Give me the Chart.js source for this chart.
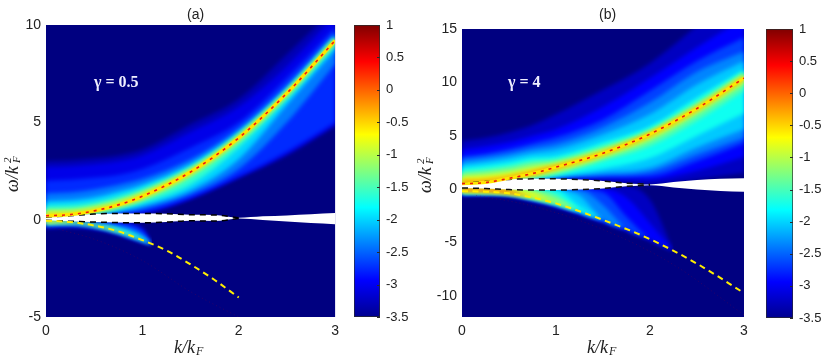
<!DOCTYPE html>
<html>
<head>
<meta charset="utf-8">
<script src="https://cdn.jsdelivr.net/npm/chart.js@4"></script>
<style>
  html, body { margin: 0; padding: 0; background: #fff; }
  canvas { position: absolute; }
</style>
</head>
<body>
<canvas id="panelA" style="left:0;top:0" width="345" height="363"></canvas>
<canvas id="barA" style="left:345px;top:0" width="65" height="363"></canvas>
<canvas id="panelB" style="left:410px;top:0" width="345" height="363"></canvas>
<canvas id="barB" style="left:755px;top:0" width="80" height="363"></canvas>
<script>
const xTicks = [0, 1, 2, 3];
const aYTicks = [-5, 0, 5, 10];
const bYTicks = [-10, -5, 0, 5, 10, 15];
const barTicks = [-3.5, -3, -2.5, -2, -1.5, -1, -0.5, 0, 0.5, 1];
const jetStops = [[0, "#00008f"], [0.125, "#0000ff"], [0.375, "#00ffff"], [0.625, "#ffff00"], [0.875, "#ff0000"], [1, "#800000"]];

// every row of a field is one contour level, one value per k stop
const fieldKs = [0, 0.25, 0.5, 0.75, 1, 1.5, 2, 2.5, 3];

const aLevels = [-3.4, -3.2, -2.9, -2.6, -2.2, -1.8, -1.4, -1, -0.6];
const aRidge = [0.2, 0.26, 0.45, 0.76, 1.2, 2.45, 4.2, 6.5, 9.2];
const aUpper = [
  [3.0, 3.05, 3.15, 3.3, 3.6, 4.9, 6.2, 8.5, 10.9],
  [2.7, 2.75, 2.85, 3.0, 3.3, 4.5, 5.8, 7.9, 10.5],
  [2.0, 2.05, 2.15, 2.3, 2.6, 3.7, 5.0, 7.3, 9.9],
  [1.35, 1.4, 1.55, 1.8, 2.1, 3.1, 4.7, 6.9, 9.6],
  [0.95, 1.0, 1.15, 1.45, 1.8, 2.85, 4.5, 6.75, 9.45],
  [0.7, 0.75, 0.9, 1.2, 1.6, 2.72, 4.4, 6.65, 9.35],
  [0.52, 0.55, 0.72, 1.02, 1.45, 2.6, 4.33, 6.6, 9.3],
  [0.4, 0.42, 0.6, 0.9, 1.35, 2.55, 4.28, 6.56, 9.26],
  [0.3, 0.33, 0.52, 0.82, 1.27, 2.5, 4.25, 6.54, 9.24]
];
const aLower = [
  [0.15, 0.2, 0.25, 0.3, 0.35, 1.05, 2.15, 3.3, 4.8],
  [0.15, 0.2, 0.25, 0.3, 0.35, 1.1, 2.2, 3.4, 4.9],
  [0.15, 0.2, 0.25, 0.32, 0.4, 1.15, 2.25, 3.5, 5.0],
  [0.15, 0.2, 0.27, 0.38, 0.55, 1.3, 2.6, 5.0, 8.0],
  [0.15, 0.2, 0.3, 0.45, 0.7, 1.5, 3.1, 5.9, 8.7],
  [0.16, 0.21, 0.33, 0.54, 0.85, 1.8, 3.7, 6.2, 9.0],
  [0.17, 0.22, 0.38, 0.64, 1.0, 2.2, 4.02, 6.35, 9.08],
  [0.18, 0.24, 0.41, 0.7, 1.1, 2.33, 4.1, 6.42, 9.13],
  [0.19, 0.25, 0.43, 0.73, 1.15, 2.4, 4.15, 6.47, 9.16]
];

const aNegKs = [0, 0.25, 0.5, 0.75, 1, 1.1];
const aNegLevels = [-3.3, -3, -2.5, -2, -1.5, -1, -0.6];
const aNegUpper = [
  [0, -0.05, -0.1, -0.15, -0.4, -1.28],
  [0, -0.05, -0.12, -0.18, -0.55, -1.28],
  [0, -0.05, -0.18, -0.3, -0.75, -1.28],
  [0, -0.06, -0.24, -0.45, -0.95, -1.28],
  [0, -0.08, -0.27, -0.55, -1.03, -1.28],
  [0, -0.1, -0.28, -0.58, -1.05, -1.28],
  [0, -0.11, -0.29, -0.59, -1.05, -1.28]
];
const aNegLower = [
  [-0.45, -0.4, -0.5, -0.78, -1.2, -1.28],
  [-0.38, -0.33, -0.44, -0.72, -1.14, -1.28],
  [-0.3, -0.25, -0.38, -0.68, -1.1, -1.28],
  [-0.24, -0.2, -0.35, -0.65, -1.08, -1.28],
  [-0.18, -0.17, -0.33, -0.63, -1.07, -1.28],
  [-0.14, -0.15, -0.31, -0.61, -1.06, -1.28],
  [-0.1, -0.13, -0.3, -0.6, -1.05, -1.28]
];

const bLevels = [-3.4, -3.1, -2.8, -2.5, -2.2, -1.9, -1.6, -1.3, -1, -0.6, -0.2];
const bRidge = [0.5, 0.6, 1.0, 1.45, 2.05, 3.35, 5.15, 7.55, 10.4];
const bUpper = [
  [4.5, 4.8, 5.3, 6.0, 7.0, 9.3, 11.8, 15.3, 19],
  [3.7, 4.0, 4.4, 5.0, 5.6, 7.7, 10.4, 13.3, 16],
  [3.05, 3.3, 3.75, 4.3, 4.85, 6.5, 9.2, 12.0, 14.2],
  [2.75, 3.0, 3.35, 3.85, 4.25, 5.8, 8.1, 11.0, 12.9],
  [2.35, 2.6, 2.95, 3.4, 3.7, 5.1, 7.0, 9.8, 12],
  [2.0, 2.2, 2.5, 2.95, 3.1, 4.4, 5.9, 8.6, 11.2],
  [1.65, 1.85, 2.15, 2.6, 2.8, 4.05, 5.6, 8.2, 11],
  [1.38, 1.55, 1.85, 2.3, 2.55, 3.8, 5.4, 7.9, 10.8],
  [1.1, 1.25, 1.5, 1.95, 2.35, 3.6, 5.3, 7.75, 10.65],
  [0.85, 0.95, 1.25, 1.7, 2.2, 3.45, 5.22, 7.65, 10.5],
  [0.6, 0.7, 1.07, 1.55, 2.1, 3.38, 5.17, 7.58, 10.44]
];
const bLower = [
  [0.4, 0.5, 0.85, 0.95, 0.95, 0.7, 0.4, 0.9, 1.5],
  [0.4, 0.5, 0.85, 1.0, 1.1, 1.05, 0.9, 1.7, 3.0],
  [0.4, 0.5, 0.85, 1.0, 1.12, 1.15, 1.2, 2.6, 4.3],
  [0.4, 0.5, 0.85, 1.0, 1.15, 1.3, 1.6, 3.2, 4.8],
  [0.4, 0.5, 0.85, 1.02, 1.2, 1.55, 2.0, 3.9, 5.6],
  [0.4, 0.52, 0.87, 1.05, 1.25, 1.9, 2.9, 5.0, 7.1],
  [0.4, 0.52, 0.87, 1.1, 1.35, 2.6, 4.0, 6.4, 9.2],
  [0.42, 0.55, 0.9, 1.15, 1.55, 2.9, 4.5, 7.0, 9.8],
  [0.44, 0.56, 0.92, 1.25, 1.75, 3.1, 4.8, 7.25, 10.1],
  [0.46, 0.57, 0.95, 1.36, 1.93, 3.25, 5.0, 7.42, 10.28],
  [0.48, 0.58, 0.98, 1.42, 2.0, 3.3, 5.1, 7.5, 10.37]
];

const bNegKs = [0, 0.25, 0.5, 0.75, 1, 1.25, 1.5, 1.75, 2, 2.25];
const bNegUpper = [
  [0.1, 0.05, 0, -0.1, -0.1, -0.05, 0.05, 0.25, -1.0, -5.8],
  [0.1, 0.05, 0, -0.1, -0.1, -0.05, 0.05, -0.8, -3.2, -5.8],
  [0.1, 0.05, 0, -0.1, -0.1, -0.05, -0.3, -2.6, -4.7, -5.8],
  [0.1, 0.05, 0, -0.1, -0.1, -0.1, -1.5, -3.75, -4.7, -5.8],
  [0.1, 0.05, 0, -0.1, -0.1, -0.6, -2.9, -3.75, -4.7, -5.8],
  [0.1, 0.05, 0, -0.1, -0.1, -1.6, -2.9, -3.75, -4.7, -5.8],
  [0.1, 0.05, 0, -0.1, -0.5, -2.1, -2.9, -3.75, -4.7, -5.8],
  [0.1, 0.05, 0, -0.15, -0.9, -2.1, -2.9, -3.75, -4.7, -5.8],
  [0.1, 0.05, -0.05, -0.35, -1.35, -2.1, -2.9, -3.75, -4.7, -5.8],
  [0.1, 0.05, -0.1, -0.8, -1.35, -2.1, -2.9, -3.75, -4.7, -5.8],
  [0.1, 0, -0.2, -0.8, -1.35, -2.1, -2.9, -3.75, -4.7, -5.8]
];
const bNegLower = [
  [-0.68, -0.62, -0.75, -1.2, -1.75, -2.45, -3.2, -3.95, -4.85, -5.8],
  [-0.58, -0.54, -0.64, -1.08, -1.62, -2.3, -3.05, -3.8, -4.72, -5.8],
  [-0.5, -0.48, -0.57, -1.0, -1.52, -2.2, -2.95, -3.75, -4.7, -5.8],
  [-0.46, -0.45, -0.54, -0.96, -1.47, -2.15, -2.9, -3.75, -4.7, -5.8],
  [-0.42, -0.42, -0.51, -0.92, -1.43, -2.12, -2.9, -3.75, -4.7, -5.8],
  [-0.38, -0.39, -0.48, -0.89, -1.4, -2.1, -2.9, -3.75, -4.7, -5.8],
  [-0.34, -0.36, -0.46, -0.86, -1.38, -2.1, -2.9, -3.75, -4.7, -5.8],
  [-0.3, -0.33, -0.44, -0.84, -1.36, -2.1, -2.9, -3.75, -4.7, -5.8],
  [-0.25, -0.3, -0.43, -0.83, -1.35, -2.1, -2.9, -3.75, -4.7, -5.8],
  [-0.2, -0.26, -0.41, -0.8, -1.35, -2.1, -2.9, -3.75, -4.7, -5.8],
  [-0.15, -0.22, -0.4, -0.8, -1.35, -2.1, -2.9, -3.75, -4.7, -5.8]
];

const gapKs = [0, 0.25, 0.5, 0.75, 1, 1.25, 1.5, 1.75, 2, 2.25, 2.5, 2.75, 3];
const aGapTop = [0.13, 0.2, 0.29, 0.32, 0.32, 0.3, 0.25, 0.24, 0.1, 0.17, 0.22, 0.28, 0.34];
const aGapBottom = [-0.03, -0.08, -0.12, -0.15, -0.16, -0.12, -0.06, -0.07, 0.06, -0.02, -0.1, -0.17, -0.23];
const bGapTop = [0.55, 0.7, 0.9, 0.95, 0.95, 0.88, 0.75, 0.55, 0.43, 0.65, 0.85, 0.95, 1.0];
const bGapBottom = [0.1, 0.05, -0.05, -0.1, -0.1, -0.05, 0.05, 0.25, 0.36, 0.15, -0.05, -0.18, -0.25];

const aBranchKs = [0, 0.25, 0.5, 0.75, 1, 1.25, 1.5, 1.75, 2];
const aBranch = [-0.05, -0.12, -0.3, -0.6, -1.05, -1.58, -2.3, -3.1, -4.0];
const aFaintKs = [0.05, 0.5, 1, 1.5, 2];
const aFaint = [-0.4, -1.0, -2.1, -3.7, -5];
const bBranch = [-0.2, -0.25, -0.4, -0.8, -1.35, -2.9, -4.7, -7.0, -9.75];
const bFaintKs = [0.15, 0.75, 1.5, 2.25, 3];
const bFaint = [-0.6, -1.6, -3.8, -7.1, -11.8];

function hexRgb(h) {
  return [1, 3, 5].map((i) => parseInt(h.slice(i, i + 2), 16));
}

function jet(v) {
  const t = Math.min(1, Math.max(0, (v + 3.5) / 4.5));
  for (let i = 1; i < jetStops.length; i++) {
    if (t <= jetStops[i][0]) {
      const f = (t - jetStops[i - 1][0]) / (jetStops[i][0] - jetStops[i - 1][0]);
      const a = hexRgb(jetStops[i - 1][1]);
      const b = hexRgb(jetStops[i][1]);
      return `rgb(${a.map((c, n) => Math.round(c + (b[n] - c) * f)).join(",")})`;
    }
  }
  return jetStops[jetStops.length - 1][1];
}

function points(ks, ys) {
  return ks.map((k, i) => ({ x: k, y: ys[i] }));
}

function curve(ks, ys, extra) {
  return Object.assign(
    {
      data: points(ks, ys),
      pointRadius: 0,
      borderWidth: 0,
      fill: false,
      cubicInterpolationMode: "monotone",
    },
    extra
  );
}

// inner level first, because chart.js paints the last dataset first
function bands(ks, levels, lower, upper) {
  const out = [];
  for (let i = levels.length - 1; i >= 0; i--) {
    const next = i + 1 < levels.length ? levels[i + 1] : levels[i] + 0.4;
    const color = jet((levels[i] + next) / 2);
    out.push(curve(ks, lower[i], { isBand: true }));
    out.push(curve(ks, upper[i], { isBand: true, fill: "-1", backgroundColor: color }));
  }
  return out;
}

function dashed(ks, ys, color, width, dash) {
  return curve(ks, ys, { borderColor: color, borderWidth: width, borderDash: dash });
}

function panel(id, cfg) {
  const datasets = [].concat(
    cfg.lines,
    [
      curve(gapKs, cfg.gapBottom),
      curve(gapKs, cfg.gapTop, { fill: "-1", backgroundColor: "#ffffff" }),
    ],
    cfg.fields
  );
  const firstBand = datasets.findIndex((d) => d.isBand);
  new Chart(document.getElementById(id), {
    type: "line",
    data: { datasets: datasets },
    options: {
      responsive: false,
      animation: false,
      layout: { padding: { top: cfg.top, right: cfg.right } },
      plugins: { legend: { display: false }, tooltip: { enabled: false } },
      scales: {
        x: {
          type: "linear",
          min: 0,
          max: 3,
          z: 1,
          grid: { display: false, drawTicks: false },
          border: { display: false },
          afterBuildTicks: (a) => (a.ticks = xTicks.map((v) => ({ value: v }))),
          afterFit: (s) => (s.height = 363 - cfg.bottom),
          ticks: { padding: 6, maxRotation: 0, color: "#222", font: { family: "Liberation Sans", size: 14 } },
        },
        y: {
          min: cfg.yMin,
          max: cfg.yMax,
          z: 1,
          grid: { display: false, drawTicks: false },
          border: { display: false },
          afterBuildTicks: (a) => (a.ticks = cfg.yTicks.map((v) => ({ value: v }))),
          afterFit: (s) => (s.width = cfg.left),
          ticks: { padding: 5, color: "#222", font: { family: "Liberation Sans", size: 14 } },
        },
      },
    },
    plugins: [
      {
        id: "spectrum",
        beforeDatasetsDraw(chart) {
          const { ctx, chartArea: a } = chart;
          ctx.fillStyle = "#000080";
          ctx.fillRect(a.left, a.top, a.right - a.left, a.bottom - a.top);
          ctx.filter = "blur(2px)";
        },
        afterDatasetDraw(chart, args) {
          if (args.index === firstBand) chart.ctx.filter = "none";
        },
        afterDraw(chart) {
          const { ctx } = chart;
          ctx.save();
          ctx.textBaseline = "middle";
          ctx.textAlign = "left";
          ctx.fillStyle = "#222";
          ctx.font = "14px 'Liberation Sans'";
          ctx.fillText(cfg.title, cfg.titleX, 15);

          ctx.fillStyle = "#eef";
          ctx.font = "bold 16px 'Liberation Serif'";
          ctx.fillText(cfg.note, cfg.noteX, 83);

          ctx.fillStyle = "#222";
          ctx.font = "italic 18px 'Liberation Serif'";
          ctx.fillText("k/k", cfg.xLabelX, 348);
          ctx.font = "italic 12px 'Liberation Serif'";
          ctx.fillText("F", cfg.xLabelX + 22, 352);

          ctx.translate(cfg.yLabelX, cfg.yLabelY);
          ctx.rotate(-Math.PI / 2);
          ctx.font = "italic 18px 'Liberation Serif'";
          ctx.fillText("ω/k", 0, 0);
          ctx.font = "italic 11px 'Liberation Serif'";
          ctx.fillText("2", 29, -5);
          ctx.fillText("F", 29, 4);
          ctx.restore();
        },
      },
    ],
  });
}

function colorBar(id, top, bottom, left, right) {
  new Chart(document.getElementById(id), {
    type: "bar",
    data: {
      labels: ["v"],
      datasets: [
        {
          data: [[barTicks[0], barTicks[barTicks.length - 1]]],
          barPercentage: 1,
          categoryPercentage: 1,
          borderColor: "#2a2a2a",
          borderWidth: 1,
          borderSkipped: false,
          backgroundColor(c) {
            const area = c.chart.chartArea;
            if (!area) return "#00008f";
            const g = c.chart.ctx.createLinearGradient(0, area.bottom, 0, area.top);
            jetStops.forEach((st) => g.addColorStop(st[0], st[1]));
            return g;
          },
        },
      ],
    },
    options: {
      responsive: false,
      animation: false,
      layout: { padding: { top: top, left: left, bottom: 363 - bottom, right: 0 } },
      plugins: { legend: { display: false }, tooltip: { enabled: false } },
      scales: {
        x: { display: false },
        y: {
          position: "right",
          min: -3.5,
          max: 1,
          grid: { display: false, drawTicks: false },
          border: { display: false },
          afterBuildTicks: (a) => (a.ticks = barTicks.map((v) => ({ value: v }))),
          afterFit: (s) => (s.width = right),
          ticks: {
            padding: 6,
            color: "#222",
            font: { family: "Liberation Sans", size: 13 },
            callback: (v) => String(v),
          },
        },
      },
    },
    plugins: [
      {
        id: "innerTicks",
        afterDraw(chart) {
          const { ctx, chartArea: a, scales } = chart;
          ctx.strokeStyle = "#2a2a2a";
          ctx.lineWidth = 1;
          barTicks.forEach((v) => {
            const y = Math.round(scales.y.getPixelForValue(v)) + 0.5;
            ctx.beginPath();
            ctx.moveTo(a.right - 3, y);
            ctx.lineTo(a.right, y);
            ctx.stroke();
          });
        },
      },
    ],
  });
}

panel("panelA", {
  top: 25, right: 8, left: 46, bottom: 317, yMin: -5, yMax: 10, yTicks: aYTicks,
  title: "(a)", titleX: 187, note: "γ = 0.5", noteX: 94, xLabelX: 174, yLabelX: 13, yLabelY: 192,
  gapTop: aGapTop, gapBottom: aGapBottom,
  lines: [
    dashed(fieldKs, aRidge, "#ee1c10", 1.6, [3, 5]),
    dashed(fieldKs, aRidge, "#ffe600", 3.5, []),
    dashed(aBranchKs, aBranch, "#ffee00", 2, [6, 4.5]),
    dashed(aFaintKs, aFaint, "rgba(120,0,60,0.5)", 0.7, [1, 3]),
    dashed(gapKs.slice(0, 9), aGapTop.slice(0, 9), "#000000", 1.5, [6, 5]),
    dashed(gapKs.slice(0, 9), aGapBottom.slice(0, 9), "#000000", 1.5, [6, 5]),
  ],
  fields: [].concat(bands(aNegKs, aNegLevels, aNegLower, aNegUpper), bands(fieldKs, aLevels, aLower, aUpper)),
});

panel("panelB", {
  top: 29, right: 11, left: 52, bottom: 317, yMin: -12, yMax: 15, yTicks: bYTicks,
  title: "(b)", titleX: 189, note: "γ = 4", noteX: 98, xLabelX: 177, yLabelX: 16, yLabelY: 193,
  gapTop: bGapTop, gapBottom: bGapBottom,
  lines: [
    dashed(fieldKs, bRidge, "#e81a10", 1.6, [3, 5]),
    dashed(fieldKs, bRidge, "#ffe600", 3, []),
    dashed(fieldKs, bBranch, "#ffee00", 2, [6, 4.5]),
    dashed(bFaintKs, bFaint, "rgba(120,0,60,0.5)", 0.7, [1, 3]),
    dashed(gapKs.slice(0, 9), bGapTop.slice(0, 9), "#111111", 1.5, [6, 5]),
    dashed(gapKs.slice(0, 9), bGapBottom.slice(0, 9), "#111111", 1.5, [6, 5]),
  ],
  fields: [].concat(bands(bNegKs, bLevels, bNegLower, bNegUpper), bands(fieldKs, bLevels, bLower, bUpper)),
});

colorBar("barA", 25, 317, 9, 30);
colorBar("barB", 29, 318, 11, 42);
</script>
</body>
</html>
